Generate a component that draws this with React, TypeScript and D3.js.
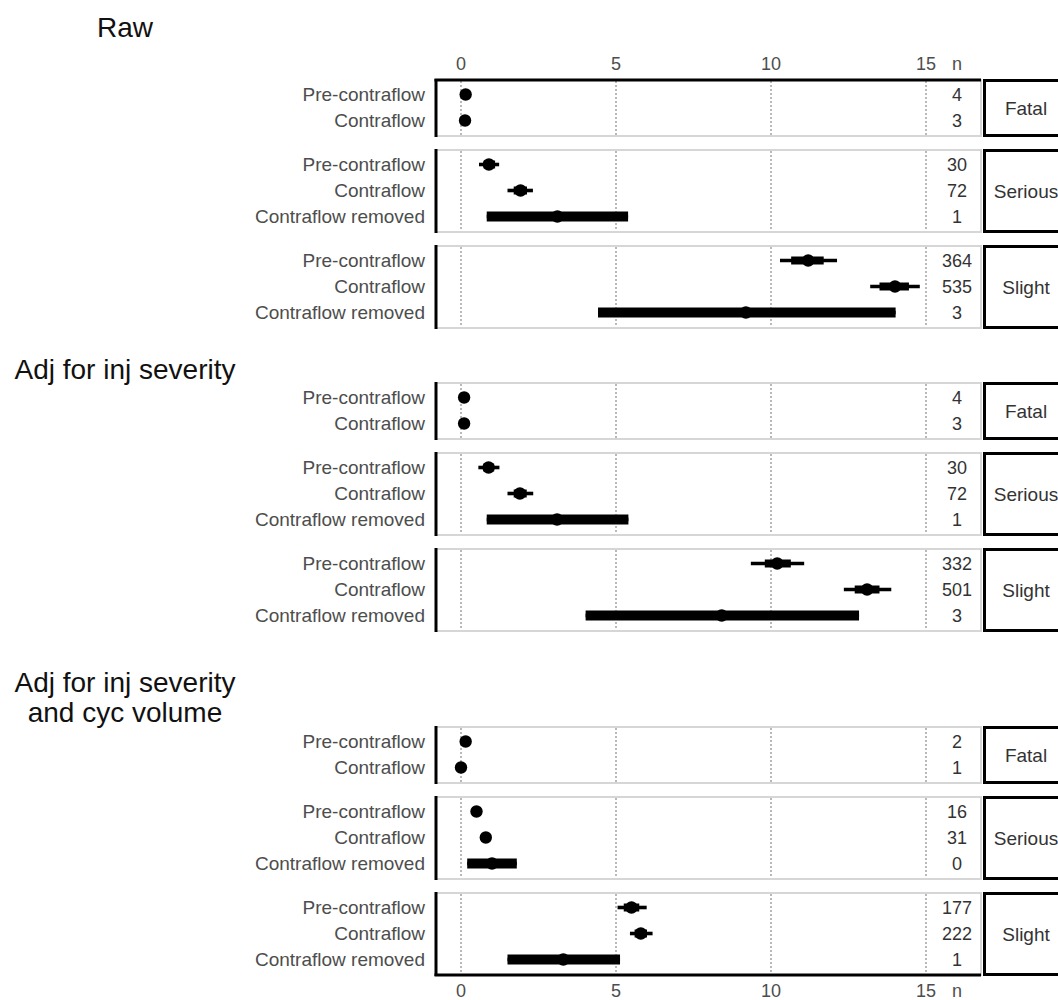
import React from 'react';
import * as d3 from 'd3';

// ---- data ----
const sectionTitles = [['Raw'], ['Adj for inj severity'], ['Adj for inj severity', 'and cyc volume']];
const severities = ['Fatal', 'Serious', 'Slight'];
const rowSeverity = ['Fatal', 'Fatal', 'Serious', 'Serious', 'Serious', 'Slight', 'Slight', 'Slight'];
const rowGroup = ['Pre-contraflow', 'Contraflow', 'Pre-contraflow', 'Contraflow', 'Contraflow removed', 'Pre-contraflow', 'Contraflow', 'Contraflow removed'];
const xTicks = [0, 5, 10, 15];

const rawEst = [0.15, 0.13, 0.9, 1.92, 3.11, 11.2, 14.0, 9.19];
const rawLo95 = [0.03, 0.02, 0.58, 1.5, 0.83, 10.29, 13.2, 4.42];
const rawHi95 = [0.3, 0.28, 1.23, 2.32, 5.39, 12.13, 14.8, 14.02];
const rawLo66 = [0.08, 0.07, 0.73, 1.7, 0.83, 10.65, 13.5, 4.42];
const rawHi66 = [0.22, 0.2, 1.1, 2.13, 5.39, 11.7, 14.45, 14.02];
const rawN = [4, 3, 30, 72, 1, 364, 535, 3];

const sevEst = [0.1, 0.1, 0.89, 1.9, 3.1, 10.2, 13.1, 8.41];
const sevLo95 = [0.02, 0.02, 0.56, 1.5, 0.83, 9.35, 12.35, 4.02];
const sevHi95 = [0.2, 0.2, 1.24, 2.33, 5.4, 11.07, 13.88, 12.84];
const sevLo66 = [0.05, 0.05, 0.72, 1.7, 0.83, 9.8, 12.7, 4.02];
const sevHi66 = [0.16, 0.16, 1.07, 2.12, 5.4, 10.64, 13.5, 12.84];
const sevN = [4, 3, 30, 72, 1, 332, 501, 3];

const volEst = [0.15, 0.0, 0.5, 0.8, 1.0, 5.5, 5.8, 3.3];
const volLo95 = [0.05, -0.05, 0.38, 0.66, 0.2, 5.05, 5.45, 1.5];
const volHi95 = [0.25, 0.06, 0.62, 0.94, 1.8, 5.99, 6.18, 5.13];
const volLo66 = [0.1, -0.02, 0.44, 0.72, 0.2, 5.25, 5.6, 1.5];
const volHi66 = [0.2, 0.03, 0.56, 0.88, 1.8, 5.75, 6.0, 5.13];
const volN = [2, 1, 16, 31, 0, 177, 222, 1];

const sectionData = [
  { est: rawEst, lo95: rawLo95, hi95: rawHi95, lo66: rawLo66, hi66: rawHi66, n: rawN },
  { est: sevEst, lo95: sevLo95, hi95: sevHi95, lo66: sevLo66, hi66: sevHi66, n: sevN },
  { est: volEst, lo95: volLo95, hi95: volHi95, lo66: volLo66, hi66: volHi66, n: volN },
];

// ---- layout ----
const W = 1058;
const H = 1000;
const FONT = "'Liberation Sans', Arial, Helvetica, sans-serif";
const panelLeft = 436;
const panelRight = 981;
const nX = 957;
const stripLeft = 983;
const stripW = 87;
const sectionTops = [80, 383, 727];
const titleBaselines = [[37], [379], [692, 722]];
const titleX = 125;
const rowStep = 26;
const panelGap = 14;

const x = d3.scaleLinear().domain([0, 15]).range([461, 926]);

export default function App() {
  const elements: React.ReactNode[] = [];
  let lastBottom = 0;

  sectionData.forEach((sd, s) => {
    // title
    titleBaselines[s].forEach((by, li) => {
      elements.push(
        <text key={`t${s}-${li}`} x={titleX} y={by} textAnchor="middle" fontSize={28} fill="#111" fontFamily={FONT}>
          {sectionTitles[s][li]}
        </text>
      );
    });

    let y = sectionTops[s];
    severities.forEach((sev, p) => {
      const idx = rowSeverity.map((r, i) => (r === sev ? i : -1)).filter((i) => i >= 0);
      const h = idx.length * rowStep + 4;
      const top = y;
      const bottom = y + h;
      const key = `s${s}p${p}`;
      // panel background + border
      elements.push(
        <rect key={`${key}-bg`} x={panelLeft} y={top} width={panelRight - panelLeft} height={h} fill="#fff" stroke="#d6d6d6" strokeWidth={2} />
      );
      // gridlines
      xTicks.forEach((t) => {
        elements.push(
          <line key={`${key}-g${t}`} x1={x(t)} x2={x(t)} y1={top + 1} y2={bottom - 1} stroke="#a8a8a8" strokeWidth={1.6} strokeDasharray="2,2" />
        );
      });
      // rows
      idx.forEach((i, k) => {
        const ry = top + 14.5 + rowStep * k;
        elements.push(
          <text key={`${key}-l${k}`} x={425} y={ry} dy="0.36em" textAnchor="end" fontSize={19} fill="#4d4d4d" fontFamily={FONT}>
            {rowGroup[i]}
          </text>
        );
        elements.push(
          <line key={`${key}-ci95${k}`} x1={x(sd.lo95[i])} x2={x(sd.hi95[i])} y1={ry} y2={ry} stroke="#000" strokeWidth={3.6} />
        );
        const removed = rowGroup[i] === 'Contraflow removed';
        elements.push(
          <line key={`${key}-ci66${k}`} x1={x(sd.lo66[i])} x2={x(sd.hi66[i])} y1={ry} y2={ry} stroke="#000" strokeWidth={removed ? 10 : 8} />
        );
        elements.push(<circle key={`${key}-pt${k}`} cx={x(sd.est[i])} cy={ry} r={6.2} fill="#000" />);
        elements.push(
          <text key={`${key}-n${k}`} x={nX} y={ry} dy="0.36em" textAnchor="middle" fontSize={18} fill="#333" fontFamily={FONT}>
            {sd.n[i]}
          </text>
        );
      });
      // left axis line
      elements.push(<line key={`${key}-ax`} x1={panelLeft} x2={panelLeft} y1={top - 1} y2={bottom + 1} stroke="#000" strokeWidth={3} />);
      // strip
      elements.push(
        <rect key={`${key}-strip`} x={stripLeft + 1.5} y={top + 0.5} width={stripW} height={h - 1} fill="#fff" stroke="#000" strokeWidth={3} />
      );
      elements.push(
        <text key={`${key}-stxt`} x={stripLeft + 43} y={(top + bottom) / 2} dy="0.36em" textAnchor="middle" fontSize={19} fill="#333" fontFamily={FONT}>
          {sev}
        </text>
      );
      lastBottom = bottom;
      y = bottom + panelGap;
    });

    if (s === 0) {
      const ay = sectionTops[0];
      elements.push(<line key="topaxis" x1={panelLeft - 1.5} x2={panelRight} y1={ay} y2={ay} stroke="#000" strokeWidth={3} />);
      xTicks.forEach((t) => {
        elements.push(
          <text key={`tt${t}`} x={x(t)} y={70} textAnchor="middle" fontSize={18} fill="#4d4d4d" fontFamily={FONT}>
            {t}
          </text>
        );
      });
      elements.push(
        <text key="ttn" x={nX} y={70} textAnchor="middle" fontSize={18} fill="#4d4d4d" fontFamily={FONT}>n</text>
      );
    }
    if (s === sectionData.length - 1) {
      const ay = lastBottom;
      elements.push(<line key="botaxis" x1={panelLeft - 1.5} x2={panelRight} y1={ay} y2={ay} stroke="#000" strokeWidth={3} />);
      xTicks.forEach((t) => {
        elements.push(
          <text key={`bt${t}`} x={x(t)} y={ay + 22} textAnchor="middle" fontSize={18} fill="#4d4d4d" fontFamily={FONT}>
            {t}
          </text>
        );
      });
      elements.push(
        <text key="btn" x={nX} y={ay + 22} textAnchor="middle" fontSize={18} fill="#4d4d4d" fontFamily={FONT}>n</text>
      );
    }
  });

  return (
    <svg width={W} height={H} style={{ position: 'absolute', left: 0, top: 0, background: '#fff' }}>
      <rect x={0} y={0} width={W} height={H} fill="#fff" />
      {elements}
    </svg>
  );
}
